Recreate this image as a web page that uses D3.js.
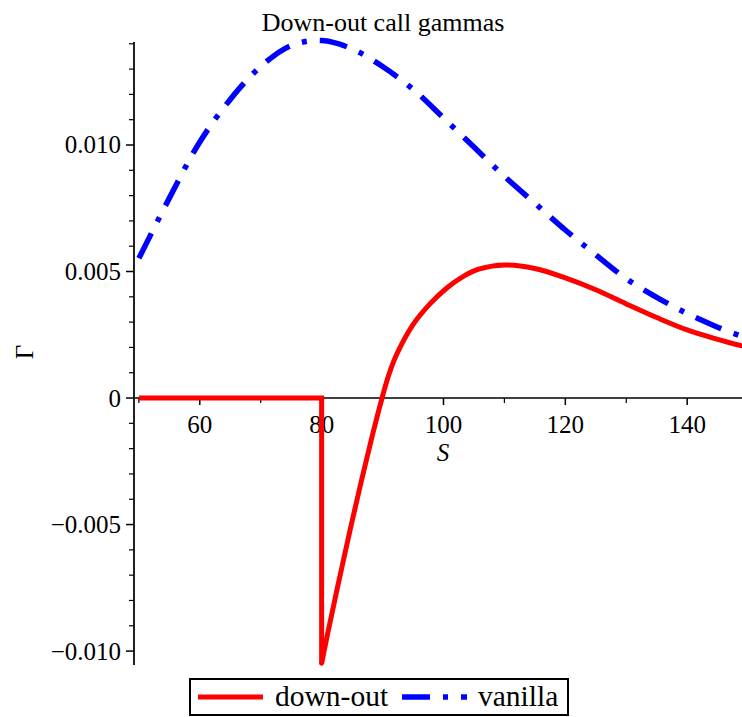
<!DOCTYPE html>
<html><head><meta charset="utf-8">
<script src="https://cdn.jsdelivr.net/npm/d3@7"></script>
<style>body{margin:0;background:#fff}svg{display:block}text{font-family:"Liberation Serif","Times New Roman",serif;fill:#000}</style>
</head><body>
<svg id="c" width="742" height="717"></svg>
<script>
const title = "Down-out call gammas";
const xLabel = "S";
const yLabel = "Γ";
const seriesNames = ["down-out", "vanilla"];
const vanillaS = [50,55,60,65,70,75,80,85,90,95,100,105,110,115,120,125,130,135,140,145,149];
const vanillaG = [0.00552,0.00790,0.01012,0.01180,0.01310,0.01393,0.01413,0.01380,0.01310,0.01220,0.01107,0.00992,0.00876,0.00770,0.00664,0.00566,0.00472,0.00398,0.00334,0.00280,0.00243];
const doFlatS = [50,80,80];
const doFlatG = [0,0,-0.01048];
const doS = [80,81,82.5,84.5,86.5,88.2,89.8,91,92.27,95,97.7,100.5,103.2,105.9,110,115,120,125,130,135,140,145,149];
const doG = [-0.01048,-0.0093,-0.0076,-0.0054,-0.0033,-0.0016,-0.0001,0.0009,0.0017,0.0029,0.0037,0.00434,0.0048,0.0051,0.00526,0.00512,0.00475,0.00428,0.00372,0.00318,0.00269,0.00232,0.00206];
const xMajor = [60,80,100,120,140];
const xMinor = [50,70,90,110,130];
const yMajor = [-0.010,-0.005,0,0.005,0.010];
const yMajorLabels = ["\u22120.010","\u22120.005","0","0.005","0.010"];
const yMinor = [-0.009,-0.008,-0.007,-0.006,-0.004,-0.003,-0.002,-0.001,0.001,0.002,0.003,0.004,0.006,0.007,0.008,0.009,0.011,0.012,0.013,0.014];

const svg = d3.select("#c");
const x = d3.scaleLinear().domain([49.2,149]).range([134,742]);
const y = d3.scaleLinear().domain([-0.01055,0.01407]).range([665,42]);
const x0 = x(49.2), y0 = y(0);

// title
svg.append("text").attr("x",383).attr("y",31).attr("text-anchor","middle").attr("font-size",26).text(title);

// axes
const ax = svg.append("g");
ax.append("line").attr("x1",x0).attr("x2",742).attr("y1",y0).attr("y2",y0).attr("stroke","#000").attr("stroke-width",1.5);
ax.append("line").attr("x1",x0).attr("x2",x0).attr("y1",y(0.01407)).attr("y2",y(-0.01055)).attr("stroke","#222").attr("stroke-width",2);
xMajor.forEach(v=>{
  ax.append("line").attr("x1",x(v)).attr("x2",x(v)).attr("y1",y0).attr("y2",y0+7).attr("stroke","#000").attr("stroke-width",1.5);
  ax.append("text").attr("x",x(v)).attr("y",433).attr("text-anchor","middle").attr("font-size",25).text(v);
});
xMinor.forEach(v=>{
  ax.append("line").attr("x1",x(v)).attr("x2",x(v)).attr("y1",y0).attr("y2",y0+5).attr("stroke","#000").attr("stroke-width",1.2);
});
yMajor.forEach((v,i)=>{
  ax.append("line").attr("x1",x0-8).attr("x2",x0).attr("y1",y(v)).attr("y2",y(v)).attr("stroke","#000").attr("stroke-width",1.5);
  ax.append("text").attr("x",x0-13).attr("y",y(v)).attr("dy","0.34em").attr("text-anchor","end").attr("font-size",25).text(yMajorLabels[i]);
});
yMinor.forEach(v=>{
  ax.append("line").attr("x1",x0-5).attr("x2",x0).attr("y1",y(v)).attr("y2",y(v)).attr("stroke","#000").attr("stroke-width",1.2);
});
svg.append("text").attr("x",443).attr("y",461).attr("text-anchor","middle").attr("font-size",25).attr("font-style","italic").text(xLabel);
svg.append("text").attr("transform","translate(33,352) rotate(-90)").attr("text-anchor","middle").attr("font-size",25).text(yLabel);

// curves
const lin = d3.line().x(d=>x(d[0])).y(d=>y(d[1]));
const smooth = d3.line().x(d=>x(d[0])).y(d=>y(d[1])).curve(d3.curveCatmullRom.alpha(0.5));
svg.append("clipPath").attr("id","cp").append("rect").attr("x",0).attr("y",0).attr("width",742).attr("height",717);
const plot = svg.append("g").attr("clip-path","url(#cp)");
plot.append("path").attr("d",smooth(vanillaS.map((s,i)=>[s,vanillaG[i]]))).attr("fill","none").attr("stroke","#0000ff").attr("stroke-width",5.5).attr("stroke-dasharray","28,13,5,13");
plot.append("path").attr("d",lin(doFlatS.map((s,i)=>[s,doFlatG[i]]))).attr("fill","none").attr("stroke","#ff0000").attr("stroke-width",5).attr("stroke-linejoin","miter");
plot.append("path").attr("d",smooth(doS.map((s,i)=>[s,doG[i]]))).attr("fill","none").attr("stroke","#ff0000").attr("stroke-width",5).attr("stroke-linecap","round");

// legend
const lg = svg.append("g");
lg.append("rect").attr("x",190).attr("y",679).attr("width",378).attr("height",36).attr("fill","#fff").attr("stroke","#000").attr("stroke-width",2);
lg.append("line").attr("x1",198).attr("x2",263).attr("y1",697).attr("y2",697).attr("stroke","#ff0000").attr("stroke-width",5);
lg.append("text").attr("x",275).attr("y",706).attr("font-size",29.5).text(seriesNames[0]);
lg.append("line").attr("x1",402).attr("x2",467).attr("y1",697).attr("y2",697).attr("stroke","#0000ff").attr("stroke-width",5.5).attr("stroke-dasharray","28,13,5,13");
lg.append("text").attr("x",478).attr("y",706).attr("font-size",29.5).text(seriesNames[1]);
</script>
</body></html>
